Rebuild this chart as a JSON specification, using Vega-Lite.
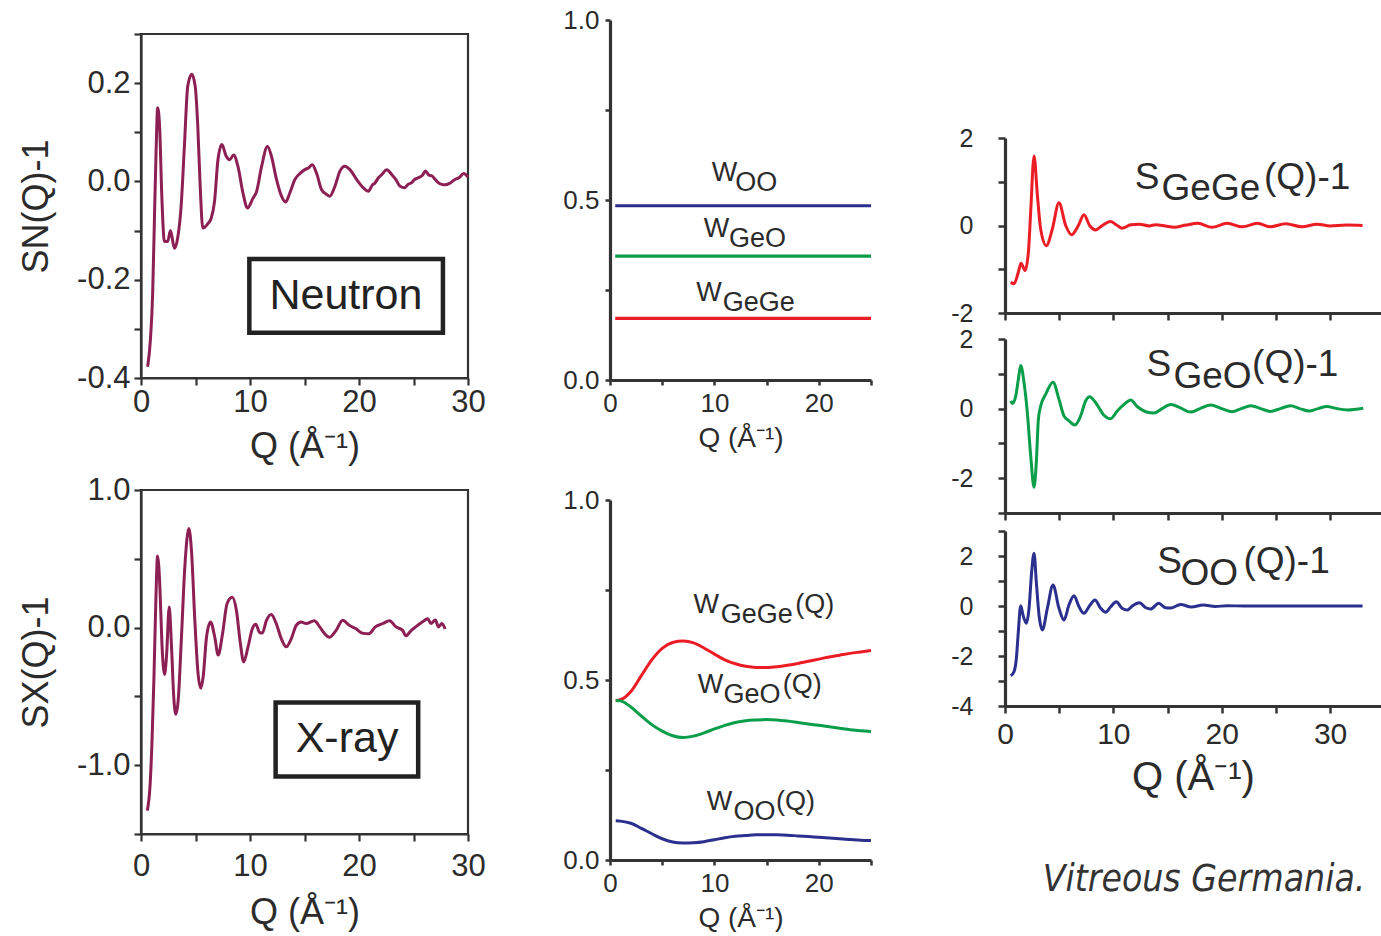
{
  "$schema": "https://vega.github.io/schema/vega-lite/v6.json",
  "padding": {"left": 17, "top": 0, "right": 0, "bottom": 0},
  "config": {
    "font": "Liberation Sans",
    "view": {"stroke": null},
    "axis": {"grid": false, "domainColor": "#333333", "tickColor": "#333333", "labelColor": "#2b2b2b", "titleColor": "#2b2b2b", "labelFont": "Liberation Sans", "titleFont": "Liberation Sans", "titleFontWeight": "normal", "labelOverlap": false, "labelFlush": false, "tickCount": 20},
    "text": {"font": "Liberation Sans", "color": "#2b2b2b"}
  },
  "datasets": {
    "neutron": [
      {"q":0.61,"s":-0.377},{"q":0.86,"s":-0.323},{"q":1.07,"s":-0.228},{"q":1.23,"s":-0.078},{"q":1.38,"s":0.058},{"q":1.53,"s":0.15},{"q":1.72,"s":0.105},{"q":1.9,"s":-0.024},{"q":2.15,"s":-0.122},{"q":2.45,"s":-0.122},{"q":2.7,"s":-0.1},{"q":3.07,"s":-0.136},{"q":3.38,"s":-0.113},{"q":3.68,"s":-0.051},{"q":3.98,"s":0.071},{"q":4.29,"s":0.194},{"q":4.66,"s":0.218},{"q":4.97,"s":0.194},{"q":5.21,"s":0.112},{"q":5.43,"s":-0.01},{"q":5.67,"s":-0.095},{"q":6.13,"s":-0.086},{"q":6.44,"s":-0.075},{"q":6.75,"s":-0.04},{"q":7.06,"s":0.044},{"q":7.42,"s":0.075},{"q":7.82,"s":0.051},{"q":8.13,"s":0.044},{"q":8.5,"s":0.054},{"q":8.9,"s":0.03},{"q":9.36,"s":-0.024},{"q":9.76,"s":-0.054},{"q":10.28,"s":-0.034},{"q":10.6,"s":-0.021},{"q":11.06,"s":0.03},{"q":11.6,"s":0.071},{"q":11.97,"s":0.051},{"q":12.43,"s":0.004},{"q":12.89,"s":-0.03},{"q":13.26,"s":-0.042},{"q":13.66,"s":-0.023},{"q":14.12,"s":0.004},{"q":14.57,"s":0.016},{"q":15.03,"s":0.024},{"q":15.4,"s":0.028},{"q":15.71,"s":0.034},{"q":16.1,"s":0.017},{"q":16.57,"s":-0.017},{"q":17.0,"s":-0.026},{"q":17.33,"s":-0.03},{"q":17.79,"s":-0.01},{"q":18.25,"s":0.021},{"q":18.71,"s":0.031},{"q":19.17,"s":0.024},{"q":19.78,"s":0.004},{"q":20.4,"s":-0.013},{"q":20.86,"s":-0.02},{"q":21.2,"s":-0.008},{"q":21.47,"s":-0.003},{"q":21.8,"s":0.008},{"q":22.09,"s":0.014},{"q":22.55,"s":0.024},{"q":23.0,"s":0.014},{"q":23.4,"s":0.003},{"q":23.77,"s":-0.01},{"q":24.2,"s":-0.013},{"q":24.5,"s":-0.006},{"q":24.8,"s":-0.003},{"q":25.1,"s":0.004},{"q":25.4,"s":0.007},{"q":25.8,"s":0.012},{"q":26.1,"s":0.021},{"q":26.4,"s":0.013},{"q":26.7,"s":0.011},{"q":27.0,"s":0.004},{"q":27.3,"s":-0.003},{"q":27.6,"s":-0.006},{"q":27.9,"s":-0.007},{"q":28.3,"s":-0.004},{"q":28.8,"s":0.004},{"q":29.2,"s":0.008},{"q":29.6,"s":0.016},{"q":30.0,"s":0.009}
    ],
    "xray": [
      {"q":0.58,"s":-1.33},{"q":0.82,"s":-1.16},{"q":1.0,"s":-0.85},{"q":1.19,"s":-0.36},{"q":1.37,"s":0.22},{"q":1.52,"s":0.52},{"q":1.73,"s":0.3},{"q":1.92,"s":-0.117},{"q":2.16,"s":-0.34},{"q":2.34,"s":-0.21},{"q":2.59,"s":0.15},{"q":2.8,"s":-0.14},{"q":3.01,"s":-0.51},{"q":3.2,"s":-0.63},{"q":3.41,"s":-0.53},{"q":3.71,"s":-0.07},{"q":4.02,"s":0.44},{"q":4.39,"s":0.72},{"q":4.63,"s":0.56},{"q":4.94,"s":0.05},{"q":5.24,"s":-0.34},{"q":5.49,"s":-0.44},{"q":5.7,"s":-0.36},{"q":6.01,"s":-0.07},{"q":6.38,"s":0.04},{"q":6.77,"s":-0.07},{"q":7.08,"s":-0.2},{"q":7.47,"s":-0.05},{"q":7.9,"s":0.175},{"q":8.38,"s":0.22},{"q":8.75,"s":0.126},{"q":9.12,"s":-0.117},{"q":9.42,"s":-0.25},{"q":9.82,"s":-0.14},{"q":10.22,"s":-0.007},{"q":10.53,"s":0.024},{"q":10.88,"s":-0.035},{"q":11.13,"s":-0.04},{"q":11.5,"s":0.05},{"q":11.95,"s":0.095},{"q":12.41,"s":0.029},{"q":12.87,"s":-0.08},{"q":13.33,"s":-0.14},{"q":13.79,"s":-0.08},{"q":14.25,"s":0.017},{"q":14.7,"s":0.04},{"q":15.16,"s":0.03},{"q":15.9,"s":0.05},{"q":16.4,"s":0.005},{"q":16.8,"s":-0.04},{"q":17.3,"s":-0.07},{"q":17.9,"s":-0.02},{"q":18.5,"s":0.054},{"q":19.1,"s":0.017},{"q":19.7,"s":-0.007},{"q":20.3,"s":-0.04},{"q":20.9,"s":-0.045},{"q":21.5,"s":0.005},{"q":22.2,"s":0.03},{"q":22.8,"s":0.05},{"q":23.4,"s":0.005},{"q":24.0,"s":-0.02},{"q":24.3,"s":-0.06},{"q":24.8,"s":-0.02},{"q":25.2,"s":0.005},{"q":25.8,"s":0.04},{"q":26.3,"s":0.065},{"q":26.6,"s":0.03},{"q":27.0,"s":0.055},{"q":27.3,"s":0.005},{"q":27.6,"s":0.03},{"q":27.9,"s":-0.01}
    ],
    "wconst": [
      {"pair":"OO","q":0.5,"w":0.484},{"pair":"OO","q":25,"w":0.484},
      {"pair":"GeO","q":0.5,"w":0.344},{"pair":"GeO","q":25,"w":0.344},
      {"pair":"GeGe","q":0.5,"w":0.171},{"pair":"GeGe","q":25,"w":0.171}
    ],
    "wq": [
      {"q":0.55,"GeGe":0.443,"GeO":0.443,"OO":0.109},{"q":1,"GeGe":0.445,"GeO":0.442,"OO":0.108},{"q":2,"GeGe":0.468,"GeO":0.425,"OO":0.102},{"q":3,"GeGe":0.512,"GeO":0.4,"OO":0.088},{"q":4,"GeGe":0.556,"GeO":0.376,"OO":0.073},{"q":5,"GeGe":0.588,"GeO":0.358,"OO":0.059},{"q":6,"GeGe":0.604,"GeO":0.345,"OO":0.05},{"q":7,"GeGe":0.608,"GeO":0.34,"OO":0.047},{"q":8,"GeGe":0.603,"GeO":0.344,"OO":0.048},{"q":9,"GeGe":0.589,"GeO":0.353,"OO":0.051},{"q":10,"GeGe":0.572,"GeO":0.364,"OO":0.056},{"q":11,"GeGe":0.556,"GeO":0.374,"OO":0.062},{"q":12,"GeGe":0.545,"GeO":0.382,"OO":0.066},{"q":13,"GeGe":0.538,"GeO":0.387,"OO":0.068},{"q":14,"GeGe":0.535,"GeO":0.389,"OO":0.07},{"q":15,"GeGe":0.535,"GeO":0.39,"OO":0.07},{"q":16,"GeGe":0.537,"GeO":0.389,"OO":0.07},{"q":17,"GeGe":0.541,"GeO":0.386,"OO":0.069},{"q":18,"GeGe":0.546,"GeO":0.382,"OO":0.067},{"q":19,"GeGe":0.552,"GeO":0.378,"OO":0.065},{"q":20,"GeGe":0.558,"GeO":0.374,"OO":0.063},{"q":21,"GeGe":0.564,"GeO":0.37,"OO":0.061},{"q":22,"GeGe":0.569,"GeO":0.366,"OO":0.059},{"q":23,"GeGe":0.574,"GeO":0.362,"OO":0.057},{"q":24,"GeGe":0.578,"GeO":0.359,"OO":0.055},{"q":25,"GeGe":0.582,"GeO":0.357,"OO":0.054}
    ],
    "sgege": [
      {"q":0.53,"s":-1.3},{"q":0.83,"s":-1.33},{"q":1.23,"s":-1.07},{"q":1.48,"s":-0.86},{"q":1.85,"s":-1.03},{"q":2.16,"s":-0.61},{"q":2.37,"s":0.31},{"q":2.68,"s":1.59},{"q":2.99,"s":0.69},{"q":3.29,"s":-0.08},{"q":3.82,"s":-0.46},{"q":4.37,"s":-0.08},{"q":4.98,"s":0.52},{"q":5.6,"s":0.0},{"q":6.15,"s":-0.21},{"q":6.77,"s":0.0},{"q":7.29,"s":0.245},{"q":7.81,"s":0.0},{"q":8.37,"s":-0.1},{"q":8.98,"s":0.0},{"q":9.75,"s":0.09},{"q":10.36,"s":0.0},{"q":10.8,"s":-0.06},{"q":11.6,"s":0.015},{"q":12.4,"s":0.03},{"q":13.3,"s":-0.01},{"q":13.9,"s":0.02},{"q":14.8,"s":-0.01},{"q":15.6,"s":-0.04},{"q":16.7,"s":0.01},{"q":17.8,"s":0.05},{"q":19.1,"s":-0.04},{"q":20.5,"s":0.05},{"q":21.9,"s":-0.03},{"q":23.3,"s":0.05},{"q":24.5,"s":-0.03},{"q":25.9,"s":0.04},{"q":27.4,"s":-0.03},{"q":28.8,"s":0.03},{"q":30.0,"s":-0.01},{"q":31.5,"s":0.01},{"q":33.0,"s":0.0}
    ],
    "sgeo": [
      {"q":0.53,"s":0.22},{"q":0.68,"s":0.15},{"q":0.99,"s":0.36},{"q":1.23,"s":0.84},{"q":1.45,"s":1.24},{"q":1.76,"s":0.74},{"q":2.06,"s":-0.11},{"q":2.37,"s":-1.35},{"q":2.68,"s":-2.26},{"q":2.89,"s":-1.54},{"q":3.08,"s":-0.31},{"q":3.29,"s":0.07},{"q":3.75,"s":0.41},{"q":4.43,"s":0.76},{"q":4.98,"s":0.27},{"q":5.44,"s":-0.21},{"q":5.9,"s":-0.35},{"q":6.46,"s":-0.47},{"q":6.98,"s":-0.21},{"q":7.44,"s":0.22},{"q":7.81,"s":0.34},{"q":8.37,"s":0.17},{"q":9.13,"s":-0.19},{"q":9.75,"s":-0.29},{"q":10.36,"s":-0.07},{"q":10.98,"s":0.12},{"q":11.6,"s":0.25},{"q":12.2,"s":0.06},{"q":12.98,"s":-0.09},{"q":13.75,"s":-0.13},{"q":14.5,"s":0.0},{"q":15.3,"s":0.12},{"q":16.2,"s":0.02},{"q":17.1,"s":-0.1},{"q":18.0,"s":0.0},{"q":18.98,"s":0.1},{"q":20.0,"s":0.0},{"q":20.97,"s":-0.09},{"q":21.8,"s":0.0},{"q":22.7,"s":0.08},{"q":23.6,"s":0.0},{"q":24.5,"s":-0.08},{"q":25.4,"s":0.0},{"q":26.35,"s":0.08},{"q":27.2,"s":0.0},{"q":28.05,"s":-0.07},{"q":28.9,"s":0.0},{"q":29.7,"s":0.06},{"q":30.6,"s":0.0},{"q":31.6,"s":-0.04},{"q":33.06,"s":0.01}
    ],
    "soo": [
      {"q":0.53,"s":-2.79},{"q":0.83,"s":-2.63},{"q":1.05,"s":-2.09},{"q":1.23,"s":-1.03},{"q":1.45,"s":0.01},{"q":1.66,"s":-0.36},{"q":1.97,"s":-0.69},{"q":2.22,"s":-0.09},{"q":2.46,"s":1.37},{"q":2.68,"s":2.11},{"q":2.89,"s":0.97},{"q":3.14,"s":-0.36},{"q":3.45,"s":-0.96},{"q":3.91,"s":-0.09},{"q":4.43,"s":0.84},{"q":4.98,"s":-0.09},{"q":5.44,"s":-0.56},{"q":5.9,"s":0.04},{"q":6.37,"s":0.41},{"q":6.83,"s":-0.03},{"q":7.29,"s":-0.29},{"q":7.75,"s":-0.03},{"q":8.3,"s":0.24},{"q":8.83,"s":-0.09},{"q":9.29,"s":-0.25},{"q":9.75,"s":-0.03},{"q":10.27,"s":0.17},{"q":10.8,"s":-0.09},{"q":11.3,"s":-0.16},{"q":11.75,"s":0.0},{"q":12.4,"s":0.13},{"q":13.0,"s":-0.07},{"q":13.44,"s":-0.12},{"q":14.2,"s":0.11},{"q":14.8,"s":-0.07},{"q":15.3,"s":-0.08},{"q":16.2,"s":0.06},{"q":17.2,"s":-0.04},{"q":18.3,"s":0.04},{"q":19.4,"s":-0.02},{"q":20.5,"s":0.01},{"q":22,"s":0.0},{"q":25,"s":0.0},{"q":28,"s":0.0},{"q":31,"s":0.0},{"q":33,"s":0.0}
    ]
  },
  "spacing": 75,
  "hconcat": [
    {
      "bounds": "flush",
      "spacing": 0,
      "vconcat": [
        {"width": 327, "height": 34, "data": {"values": [{}]}, "mark": {"type": "text", "text": ""}, "encoding": {}},
        {
          "bounds": "flush",
          "spacing": 112,
          "vconcat": [
            {
              "width": 327, "height": 344,
              "view": {"stroke": "#333333", "strokeWidth": 2.2},
              "layer": [
                {
                  "data": {"name": "neutron"},
                  "mark": {"type": "line", "color": "#8c1f54", "strokeWidth": 3, "interpolate": "monotone"},
                  "encoding": {
                    "x": {"field": "q", "type": "quantitative", "scale": {"domain": [0, 30], "nice": false, "zero": false},
                      "axis": {"values": [0,5,10,15,20,25,30], "format": "d", "labelOverlap": false, "labelExpr": "datum.value % 10 === 0 ? datum.label : ''", "title": "Q (Å⁻¹)", "labelFontSize": 31, "titleFontSize": 36, "labelPadding": 2, "titlePadding": 12, "tickSize": 7, "domainWidth": 2.2, "tickWidth": 2.2}},
                    "y": {"field": "s", "type": "quantitative", "scale": {"domain": [-0.4, 0.3], "nice": false, "zero": false},
                      "axis": {"values": [-0.4,-0.3,-0.2,-0.1,0,0.1,0.2,0.3], "labelOverlap": false, "format": ".1f", "labelExpr": "(abs(round(datum.value*10)) % 2 === 0 && datum.value < 0.25) ? replace(datum.label, '−', '-') : ''", "title": "SN(Q)-1", "labelFontSize": 31, "titleFontSize": 36, "labelPadding": 4, "titlePadding": 21, "tickSize": 7, "domainWidth": 2.2, "tickWidth": 2.2}}
                  }
                },
                {
                  "data": {"values": [{}]},
                  "mark": {"type": "rect", "filled": false, "stroke": "#222222", "strokeWidth": 4.5},
                  "encoding": {"x": {"datum": 9.94}, "x2": {"datum": 27.7}, "y": {"datum": -0.158}, "y2": {"datum": -0.308}}
                },
                {
                  "data": {"values": [{}]},
                  "mark": {"type": "text", "text": "Neutron", "fontSize": 43, "color": "#222222", "align": "center", "baseline": "middle"},
                  "encoding": {"x": {"datum": 18.8}, "y": {"datum": -0.233}}
                }
              ]
            },
            {
              "width": 327, "height": 344,
              "view": {"stroke": "#333333", "strokeWidth": 2.2},
              "layer": [
                {
                  "data": {"name": "xray"},
                  "mark": {"type": "line", "color": "#8c1f54", "strokeWidth": 3, "interpolate": "monotone"},
                  "encoding": {
                    "x": {"field": "q", "type": "quantitative", "scale": {"domain": [0, 30], "nice": false, "zero": false},
                      "axis": {"values": [0,5,10,15,20,25,30], "format": "d", "labelOverlap": false, "labelExpr": "datum.value % 10 === 0 ? datum.label : ''", "title": "Q (Å⁻¹)", "labelFontSize": 31, "titleFontSize": 36, "labelPadding": 10, "titlePadding": 14, "tickSize": 7, "domainWidth": 2.2, "tickWidth": 2.2}},
                    "y": {"field": "s", "type": "quantitative", "scale": {"domain": [-1.5, 1.0], "nice": false, "zero": false},
                      "axis": {"values": [-1.5,-1,-0.5,0,0.5,1], "labelOverlap": false, "format": ".1f", "labelExpr": "(datum.value % 1 === 0) ? replace(datum.label, '−', '-') : ''", "title": "SX(Q)-1", "labelFontSize": 31, "titleFontSize": 36, "labelPadding": 4, "titlePadding": 21, "tickSize": 7, "domainWidth": 2.2, "tickWidth": 2.2}}
                  }
                },
                {
                  "data": {"values": [{}]},
                  "mark": {"type": "rect", "filled": false, "stroke": "#222222", "strokeWidth": 4.5},
                  "encoding": {"x": {"datum": 12.35}, "x2": {"datum": 25.43}, "y": {"datum": -0.544}, "y2": {"datum": -1.082}}
                },
                {
                  "data": {"values": [{}]},
                  "mark": {"type": "text", "text": "X-ray", "fontSize": 43, "color": "#222222", "align": "center", "baseline": "middle"},
                  "encoding": {"x": {"datum": 18.9}, "y": {"datum": -0.813}}
                }
              ]
            }
          ]
        }
      ]
    },
    {
      "spacing": 72,
      "hconcat": [
        {
          "bounds": "flush",
          "spacing": 0,
          "vconcat": [
            {"width": 261, "height": 20, "data": {"values": [{}]}, "mark": {"type": "text", "text": ""}, "encoding": {}},
            {
              "bounds": "flush",
              "spacing": 120,
              "vconcat": [
                {
                  "width": 261, "height": 360,
                  "layer": [
                    {
                      "data": {"name": "wconst"},
                      "mark": {"type": "line", "strokeWidth": 3.2},
                      "encoding": {
                        "x": {"field": "q", "type": "quantitative", "scale": {"domain": [0, 25], "nice": false, "zero": false},
                          "axis": {"values": [0,5,10,15,20,25], "format": "d", "labelOverlap": false, "labelExpr": "datum.value % 10 === 0 ? datum.label : ''", "title": "Q (Å⁻¹)", "labelFontSize": 26, "titleFontSize": 28, "labelPadding": 5, "titlePadding": 8, "tickSize": 5, "domainWidth": 3.2, "tickWidth": 2.5}},
                        "y": {"field": "w", "type": "quantitative", "scale": {"domain": [0, 1], "nice": false},
                          "axis": {"values": [0,0.25,0.5,0.75,1], "labelOverlap": false, "format": ".1f", "labelExpr": "round(datum.value*4) % 2 === 0 ? datum.label : ''", "title": null, "labelFontSize": 26, "labelPadding": 6, "tickSize": 5, "domainWidth": 3.2, "tickWidth": 2.5}},
                        "color": {"field": "pair", "type": "nominal", "scale": {"domain": ["GeGe","GeO","OO"], "range": ["#ec1c24","#0a9e4a","#2b2f8e"]}, "legend": null},
                        "detail": {"field": "pair"}
                      }
                    },
                    {"data": {"values": [{}]}, "mark": {"type": "text", "text": "W", "fontSize": 27, "align": "left", "baseline": "alphabetic"}, "encoding": {"x": {"datum": 9.75}, "y": {"datum": 0.552}}},
                    {"data": {"values": [{}]}, "mark": {"type": "text", "text": "OO", "fontSize": 27, "align": "left", "baseline": "alphabetic", "dy": 9.5}, "encoding": {"x": {"datum": 12.0}, "y": {"datum": 0.552}}},
                    {"data": {"values": [{}]}, "mark": {"type": "text", "text": "W", "fontSize": 27, "align": "left", "baseline": "alphabetic"}, "encoding": {"x": {"datum": 8.99}, "y": {"datum": 0.396}}},
                    {"data": {"values": [{}]}, "mark": {"type": "text", "text": "GeO", "fontSize": 27, "align": "left", "baseline": "alphabetic", "dy": 9.5}, "encoding": {"x": {"datum": 11.4}, "y": {"datum": 0.396}}},
                    {"data": {"values": [{}]}, "mark": {"type": "text", "text": "W", "fontSize": 27, "align": "left", "baseline": "alphabetic"}, "encoding": {"x": {"datum": 8.26}, "y": {"datum": 0.219}}},
                    {"data": {"values": [{}]}, "mark": {"type": "text", "text": "GeGe", "fontSize": 27, "align": "left", "baseline": "alphabetic", "dy": 9.5}, "encoding": {"x": {"datum": 10.8}, "y": {"datum": 0.219}}}
                  ]
                },
                {
                  "width": 261, "height": 360,
                  "layer": [
                    {
                      "data": {"name": "wq"},
                      "transform": [{"fold": ["GeGe", "GeO", "OO"], "as": ["pair", "w"]}],
                      "mark": {"type": "line", "strokeWidth": 3, "interpolate": "monotone"},
                      "encoding": {
                        "x": {"field": "q", "type": "quantitative", "scale": {"domain": [0, 25], "nice": false, "zero": false},
                          "axis": {"values": [0,5,10,15,20,25], "format": "d", "labelOverlap": false, "labelExpr": "datum.value % 10 === 0 ? datum.label : ''", "title": "Q (Å⁻¹)", "labelFontSize": 26, "titleFontSize": 28, "labelPadding": 5, "titlePadding": 8, "tickSize": 5, "domainWidth": 3.2, "tickWidth": 2.5}},
                        "y": {"field": "w", "type": "quantitative", "scale": {"domain": [0, 1], "nice": false},
                          "axis": {"values": [0,0.25,0.5,0.75,1], "labelOverlap": false, "format": ".1f", "labelExpr": "round(datum.value*4) % 2 === 0 ? datum.label : ''", "title": null, "labelFontSize": 26, "labelPadding": 6, "tickSize": 5, "domainWidth": 3.2, "tickWidth": 2.5}},
                        "color": {"field": "pair", "type": "nominal", "scale": {"domain": ["GeGe","GeO","OO"], "range": ["#ec1c24","#0a9e4a","#2b2f8e"]}, "legend": null}
                      }
                    },
                    {"data": {"values": [{}]}, "mark": {"type": "text", "text": "W", "fontSize": 27, "align": "left", "baseline": "alphabetic"}, "encoding": {"x": {"datum": 8.0}, "y": {"datum": 0.687}}},
                    {"data": {"values": [{}]}, "mark": {"type": "text", "text": "GeGe", "fontSize": 27, "align": "left", "baseline": "alphabetic", "dy": 10}, "encoding": {"x": {"datum": 10.6}, "y": {"datum": 0.687}}},
                    {"data": {"values": [{}]}, "mark": {"type": "text", "text": "(Q)", "fontSize": 27, "align": "left", "baseline": "alphabetic"}, "encoding": {"x": {"datum": 17.75}, "y": {"datum": 0.687}}},
                    {"data": {"values": [{}]}, "mark": {"type": "text", "text": "W", "fontSize": 27, "align": "left", "baseline": "alphabetic"}, "encoding": {"x": {"datum": 8.41}, "y": {"datum": 0.464}}},
                    {"data": {"values": [{}]}, "mark": {"type": "text", "text": "GeO", "fontSize": 27, "align": "left", "baseline": "alphabetic", "dy": 10}, "encoding": {"x": {"datum": 10.87}, "y": {"datum": 0.464}}},
                    {"data": {"values": [{}]}, "mark": {"type": "text", "text": "(Q)", "fontSize": 27, "align": "left", "baseline": "alphabetic"}, "encoding": {"x": {"datum": 16.55}, "y": {"datum": 0.464}}},
                    {"data": {"values": [{}]}, "mark": {"type": "text", "text": "W", "fontSize": 27, "align": "left", "baseline": "alphabetic"}, "encoding": {"x": {"datum": 9.27}, "y": {"datum": 0.139}}},
                    {"data": {"values": [{}]}, "mark": {"type": "text", "text": "OO", "fontSize": 27, "align": "left", "baseline": "alphabetic", "dy": 10}, "encoding": {"x": {"datum": 11.83}, "y": {"datum": 0.139}}},
                    {"data": {"values": [{}]}, "mark": {"type": "text", "text": "(Q)", "fontSize": 27, "align": "left", "baseline": "alphabetic"}, "encoding": {"x": {"datum": 15.9}, "y": {"datum": 0.139}}}
                  ]
                }
              ]
            }
          ]
        },
        {
          "bounds": "flush",
          "spacing": 0,
          "vconcat": [
            {"width": 376, "height": 138, "data": {"values": [{}]}, "mark": {"type": "text", "text": ""}, "encoding": {}},
            {
              "width": 376, "height": 175,
              "layer": [
                {
                  "data": {"name": "sgege"},
                  "mark": {"type": "line", "color": "#ec1c24", "strokeWidth": 3, "interpolate": "monotone"},
                  "encoding": {
                    "x": {"field": "q", "type": "quantitative", "scale": {"domain": [0, 34.7], "nice": false, "zero": false},
                      "axis": {"values": [0,5,10,15,20,25,30], "labels": false, "title": null, "tickSize": 7, "domainWidth": 3.2, "tickWidth": 2.5}},
                    "y": {"field": "s", "type": "quantitative", "scale": {"domain": [-2, 2], "nice": false},
                      "axis": {"values": [-2,-1,0,1,2], "format": "d", "labelOverlap": false, "labelExpr": "datum.value % 2 === 0 ? replace(datum.label, '−', '-') : ''", "title": null, "labelFontSize": 25, "labelPadding": 25, "tickSize": 7, "domainWidth": 3.2, "tickWidth": 2.5}}
                  }
                },
                {"data": {"values": [{}]}, "mark": {"type": "text", "text": "S", "fontSize": 37, "align": "left", "baseline": "alphabetic"}, "encoding": {"x": {"datum": 11.97}, "y": {"datum": 0.84}}},
                {"data": {"values": [{}]}, "mark": {"type": "text", "text": "GeGe", "fontSize": 37, "align": "left", "baseline": "alphabetic", "dy": 11.7}, "encoding": {"x": {"datum": 14.45}, "y": {"datum": 0.84}}},
                {"data": {"values": [{}]}, "mark": {"type": "text", "text": "(Q)-1", "fontSize": 37, "align": "left", "baseline": "alphabetic"}, "encoding": {"x": {"datum": 23.9}, "y": {"datum": 0.84}}}
              ]
            },
            {"width": 376, "height": 26, "data": {"values": [{}]}, "mark": {"type": "text", "text": ""}, "encoding": {}},
            {
              "width": 376, "height": 174,
              "layer": [
                {
                  "data": {"name": "sgeo"},
                  "mark": {"type": "line", "color": "#0a9e4a", "strokeWidth": 3, "interpolate": "monotone"},
                  "encoding": {
                    "x": {"field": "q", "type": "quantitative", "scale": {"domain": [0, 34.7], "nice": false, "zero": false},
                      "axis": {"values": [0,5,10,15,20,25,30], "labels": false, "title": null, "tickSize": 7, "domainWidth": 3.2, "tickWidth": 2.5}},
                    "y": {"field": "s", "type": "quantitative", "scale": {"domain": [-3, 2], "nice": false},
                      "axis": {"values": [-3,-2,-1,0,1,2], "format": "d", "labelOverlap": false, "labelExpr": "indexof([-2, 0, 2], datum.value) >= 0 ? replace(datum.label, '−', '-') : ''", "title": null, "labelFontSize": 25, "labelPadding": 25, "tickSize": 7, "domainWidth": 3.2, "tickWidth": 2.5}}
                  }
                },
                {"data": {"values": [{}]}, "mark": {"type": "text", "text": "S", "fontSize": 37, "align": "left", "baseline": "alphabetic"}, "encoding": {"x": {"datum": 13.07}, "y": {"datum": 0.93}}},
                {"data": {"values": [{}]}, "mark": {"type": "text", "text": "GeO", "fontSize": 37, "align": "left", "baseline": "alphabetic", "dy": 11.3}, "encoding": {"x": {"datum": 15.55}, "y": {"datum": 0.93}}},
                {"data": {"values": [{}]}, "mark": {"type": "text", "text": "(Q)-1", "fontSize": 37, "align": "left", "baseline": "alphabetic"}, "encoding": {"x": {"datum": 22.8}, "y": {"datum": 0.93}}}
              ]
            },
            {"width": 376, "height": 18, "data": {"values": [{}]}, "mark": {"type": "text", "text": ""}, "encoding": {}},
            {
              "width": 376, "height": 175,
              "layer": [
                {
                  "data": {"name": "soo"},
                  "mark": {"type": "line", "color": "#2b2f8e", "strokeWidth": 3, "interpolate": "monotone"},
                  "encoding": {
                    "x": {"field": "q", "type": "quantitative", "scale": {"domain": [0, 34.7], "nice": false, "zero": false},
                      "axis": {"values": [0,5,10,15,20,25,30], "format": "d", "labelOverlap": false, "labelExpr": "datum.value % 10 === 0 ? datum.label : ''", "title": "Q (Å⁻¹)", "labelFontSize": 30, "titleFontSize": 40, "labelPadding": 6, "titlePadding": 8, "tickSize": 7, "domainWidth": 3.2, "tickWidth": 2.5}},
                    "y": {"field": "s", "type": "quantitative", "scale": {"domain": [-4, 3], "nice": false},
                      "axis": {"values": [-4,-3,-2,-1,0,1,2,3], "format": "d", "labelOverlap": false, "labelExpr": "(datum.value % 2 === 0) ? replace(datum.label, '−', '-') : ''", "title": null, "labelFontSize": 25, "labelPadding": 25, "tickSize": 7, "domainWidth": 3.2, "tickWidth": 2.5}}
                  }
                },
                {"data": {"values": [{}]}, "mark": {"type": "text", "text": "S", "fontSize": 37, "align": "left", "baseline": "alphabetic"}, "encoding": {"x": {"datum": 14.06}, "y": {"datum": 1.31}}},
                {"data": {"values": [{}]}, "mark": {"type": "text", "text": "OO", "fontSize": 37, "align": "left", "baseline": "alphabetic", "dy": 11.7}, "encoding": {"x": {"datum": 16.2}, "y": {"datum": 1.31}}},
                {"data": {"values": [{}]}, "mark": {"type": "text", "text": "(Q)-1", "fontSize": 37, "align": "left", "baseline": "alphabetic"}, "encoding": {"x": {"datum": 22.0}, "y": {"datum": 1.31}}}
              ]
            },
            {"width": 376, "height": 144, "data": {"values": [{}]}, "mark": {"type": "text", "text": ""}, "encoding": {}},
            {"width": 398, "height": 60, "data": {"values": [{}]}, "mark": {"type": "text", "text": "Vitreous Germania.", "font": "DejaVu Sans Condensed, Liberation Sans Narrow, sans-serif", "fontStyle": "italic", "fontSize": 37, "color": "#333333", "align": "center", "baseline": "middle"}, "encoding": {}}
          ]
        }
      ]
    }
  ]
}
